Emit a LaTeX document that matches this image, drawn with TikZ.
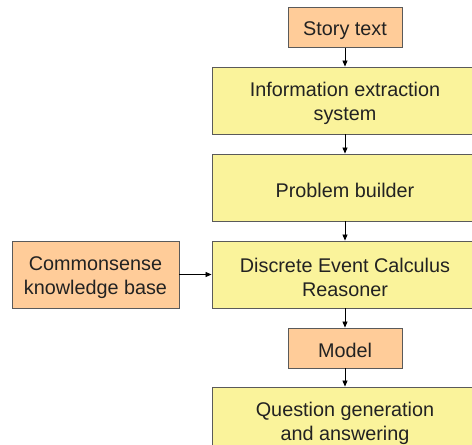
\documentclass[tikz,border=0pt]{standalone}
\usepackage{fontspec}
\setmainfont{Liberation Sans}
\usetikzlibrary{arrows.meta}
\definecolor{boxorange}{HTML}{FFCC99}
\definecolor{boxyellow}{HTML}{FAF39B}
\definecolor{edgegray}{HTML}{5A5A5A}
\definecolor{txt}{HTML}{222222}
\newcommand{\tallstrut}{\rule{0pt}{20pt}}
\tikzset{
  base/.style={draw=edgegray, line width=0.9pt, inner sep=0pt, align=center,
    text=txt, font=\fontsize{19.8}{24}\selectfont},
  orangebox/.style={base, fill=boxorange},
  yellowbox/.style={base, fill=boxyellow, minimum width=266pt, minimum height=67pt},
  conn/.style={draw=black, line width=0.8pt, -{Triangle[length=6pt,width=5pt]}}
}
\begin{document}
\begin{tikzpicture}[x=1pt,y=-1pt]
\clip (0,0) rectangle (472,445);
\node[orangebox, minimum width=114pt, minimum height=40pt] (story) at (345,27.5) {\tallstrut Story text};
\node[yellowbox] (info) at (345,100.5) {\tallstrut Information extraction\\system};
\node[yellowbox] (prob) at (345,187.5) {\tallstrut Problem builder};
\node[yellowbox] (dec) at (345,274.5) {\tallstrut Discrete Event Calculus\\Reasoner};
\node[orangebox, minimum width=167pt, minimum height=67pt] (kb) at (95.5,274.5) {\tallstrut Commonsense\\knowledge base};
\node[orangebox, minimum width=114pt, minimum height=40pt] (model) at (345,348) {\tallstrut Model};
\node[yellowbox] (qa) at (345,420.5) {\tallstrut Question generation\\and answering};
\draw[conn] (story) -- (info);
\draw[conn] (info) -- (prob);
\draw[conn] (prob) -- (dec);
\draw[conn] (kb) -- (dec);
\draw[conn] (dec) -- (model);
\draw[conn] (model) -- (qa);
\end{tikzpicture}
\end{document}
